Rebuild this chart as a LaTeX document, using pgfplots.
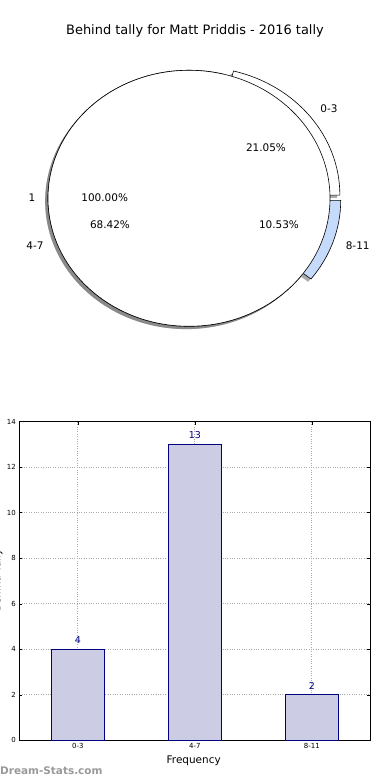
\documentclass[border=0pt]{standalone}
\usepackage{pgfplots}
\pgfplotsset{compat=1.18}
\usepackage{fontspec}
\setmainfont{DejaVu Sans}
\definecolor{barfill}{RGB}{204,204,229}
\definecolor{navyc}{RGB}{0,0,128}
\definecolor{blueslice}{RGB}{198,218,252}
\definecolor{gridc}{RGB}{170,170,170}
% counts per category
\def\cA{4}\def\cB{13}\def\cC{2}
\pgfmathsetmacro\tot{\cA+\cB+\cC}
\pgfmathsetmacro\angA{360*\cA/\tot}
\pgfmathsetmacro\angB{360*(\cA+\cB)/\tot}
\newcommand\wedgeat[5]{\path[#5] (axis cs:#1,#2) -- ++(#3:141bp and 128bp) arc[start angle=#3, end angle=#4, x radius=141bp, y radius=128bp] -- cycle;}
\begin{document}
\begin{tikzpicture}[x=1bp,y=1bp]
\begin{axis}[at={(5.7bp,415.3bp)}, anchor=south west, scale only axis,
  width=366.6bp, height=332.8bp, xmin=-1.3, xmax=1.3, ymin=-1.3, ymax=1.3,
  hide axis, clip=false]
  % shadows
  \wedgeat{0.05}{0.003}{0}{\angA}{fill=black!55, opacity=0.6}
  \wedgeat{-0.02}{-0.022}{\angA}{\angB}{fill=black!55, opacity=0.6}
  \wedgeat{0.056}{-0.038}{\angB}{360}{fill=black!55, opacity=0.6}
  \fill[black!55, opacity=0.6] (axis cs:-0.02,-0.022) ellipse [x radius=1, y radius=1];
  % second pie (exploded wedges)
  \wedgeat{0.07}{0.025}{0}{\angA}{fill=white, draw=black, line width=0.6bp}
  \wedgeat{0}{0}{\angA}{\angB}{fill=white, draw=black, line width=0.6bp}
  \wedgeat{0.076}{-0.016}{\angB}{360}{fill=blueslice, draw=black, line width=0.6bp}
  % first pie (single category, 100%)
  \filldraw[fill=white, draw=black, line width=0.6bp] (axis cs:0,0) ellipse [x radius=1, y radius=1];
\end{axis}

\node[font=\fontsize{13}{15}\selectfont, anchor=base, inner sep=0pt] at (195,745.7) {Behind tally for Matt Priddis - 2016 tally};
\begin{scope}[every node/.style={font=\fontsize{10.5}{12}\selectfont, anchor=base, inner sep=0pt}]
\node at (329,667.2) {0-3};
\node at (266,628.2) {21.05\%};
\node at (32,578.2) {1};
\node at (104.7,578.2) {100.00\%};
\node at (110,551.2) {68.42\%};
\node at (279,551.2) {10.53\%};
\node at (35,530.7) {4-7};
\node at (357.7,530.7) {8-11};
\end{scope}

\begin{axis}[at={(19.3bp,39.7bp)}, anchor=south west, scale only axis,
  width=351bp, height=318.6bp, xmin=-0.5, xmax=2.5, ymin=0, ymax=14,
  xtick={0,1,2}, xticklabels={0-3,4-7,8-11}, ytick={0,2,...,14},
  grid=major, major grid style={dotted, color=gridc, line width=0.8bp},
  tick align=inside, major tick length=3bp, tick style={black, line width=0.5bp},
  axis line style={line width=0.8bp},
  ticklabel style={font=\fontsize{7}{8}\selectfont},
  /pgf/number format/assume math mode=true]
  \addplot[ybar, bar width=0.45, fill=barfill, draw=navyc, line width=0.8bp,
    nodes near coords,
    every node near coord/.append style={font=\fontsize{9.5}{11}\selectfont, text=navyc, inner sep=0pt, yshift=5bp}]
    coordinates {(0,4) (1,13) (2,2)};
\end{axis}

\node[font=\fontsize{10.5}{12}\selectfont, anchor=base, inner sep=0pt] at (193.7,16.7) {Frequency};
\node[font=\fontsize{10.5}{12}\selectfont, rotate=90, anchor=base, inner sep=0pt] at (0.3,199.5) {Behind Tally};
\node[font=\bfseries\fontsize{10.5}{12}\selectfont, text=black!40, anchor=base west, inner sep=0pt] at (0,5.7) {Dream-Stats.com};
\pgfresetboundingbox
\path[use as bounding box] (0,0) rectangle (390,780);
\end{tikzpicture}
\end{document}
